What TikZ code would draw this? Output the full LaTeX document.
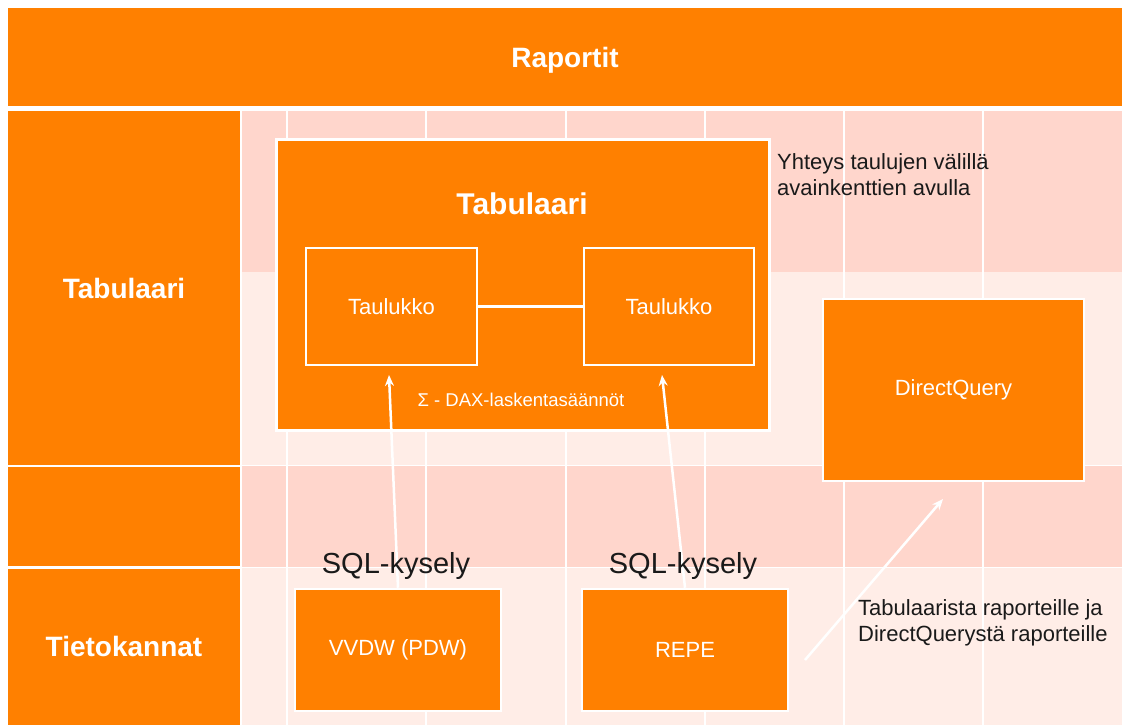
\documentclass[tikz,border=0pt]{standalone}
\usepackage{fontspec}
\setmainfont{Liberation Sans}
\usetikzlibrary{arrows.meta}
\definecolor{org}{RGB}{255,128,0}
\definecolor{pinkD}{RGB}{255,214,204}
\definecolor{pinkL}{RGB}{255,237,231}
\definecolor{txt}{RGB}{26,26,26}
\begin{document}
\begin{tikzpicture}[x=1pt,y=-1pt,
  band/.style={fill=org, text=white, inner sep=0pt, font=\bfseries\fontsize{28}{34}\selectfont},
  box/.style={draw=white, line width=2.5pt, fill=org, text=white, inner sep=0pt, font=\fontsize{22}{26}\selectfont},
  lbl/.style={inner sep=0pt, text=txt, font=\fontsize{22}{26}\selectfont, align=left},
  sql/.style={inner sep=0pt, text=txt, font=\fontsize{29}{34}\selectfont},
  grid/.style={draw=white, line width=1.2pt},
  arr/.style={draw=white, line width=2.5pt, -{Stealth[length=11pt,width=9pt]}},
  link/.style={draw=white, line width=2.5pt}]
\useasboundingbox (0,0) rectangle (1122,725);
\fill[white] (0,0) rectangle (1122,725);
% background bands
\fill[pinkD] (242,111) rectangle (1122,272);
\fill[pinkL] (242,272) rectangle (1122,465);
\fill[pinkD] (242,465) rectangle (1122,567);
\fill[pinkL] (242,567) rectangle (1122,725);
\foreach \gx in {287,426,566,705,844,983} \draw[grid] (\gx,111) -- (\gx,725);
\draw[grid] (242,465.5) -- (1122,465.5);
\draw[grid] (242,567.5) -- (1122,567.5);
% banner and left column
\node[band, minimum width=1114pt, minimum height=98pt] (rap) at (565,57) {\raisebox{-11pt}[0pt][0pt]{Raportit}};
\node[band, minimum width=232pt, minimum height=354pt] (ltab) at (124,288) {\raisebox{-10pt}[0pt][0pt]{Tabulaari}};
\node[band, minimum width=232pt, minimum height=99.5pt] (lmid) at (124,516.25) {};
\node[band, minimum width=232pt, minimum height=156.5pt] (ltie) at (124,646.75) {\raisebox{-10pt}[0pt][0pt]{Tietokannat}};
% Tabulaari container
\node[box, minimum width=493pt, minimum height=291pt] (tabbox) at (523,285) {};
\node[text=white, inner sep=0pt, font=\bfseries\fontsize{30}{36}\selectfont] (tabtitle) at (522,204) {Tabulaari};
\node[box, minimum width=171pt, minimum height=117pt] (t1) at (391.5,306.5) {Taulukko};
\node[box, minimum width=170pt, minimum height=117pt] (t2) at (669,306.5) {Taulukko};
\draw[link] (t1.east) -- (t2.west);
\node[text=white, inner sep=0pt, font=\fontsize{18.5}{22}\selectfont] (dax) at (521,400) {Σ - DAX-laskentasäännöt};
% DirectQuery
\node[box, minimum width=261pt, minimum height=182pt] (dq) at (953.5,390) {DirectQuery};
% databases
\node[box, minimum width=206pt, minimum height=122pt] (vvdw) at (398,650) {VVDW (PDW)};
\node[box, minimum width=206pt, minimum height=122pt] (repe) at (685,650) {REPE};
% arrows
\coordinate (a1) at (389,375);
\coordinate (a2) at (662,375);
\coordinate (a3s) at (805,660);
\coordinate (a3e) at (943,499);
\draw[arr] (vvdw.north) -- (a1);
\draw[arr] (repe.north) -- (a2);
\draw[arr] (a3s) -- (a3e);
% labels over the arrows
\node[sql] (sql1) at (396,566) {SQL-kysely};
\node[sql] (sql2) at (683,566) {SQL-kysely};
\node[lbl, anchor=west] (yht) at (777,175) {Yhteys taulujen välillä\\avainkenttien avulla};
\node[lbl, anchor=west] (tabr) at (858,623) {Tabulaarista raporteille ja\\DirectQuerystä raporteille};
\end{tikzpicture}
\end{document}
